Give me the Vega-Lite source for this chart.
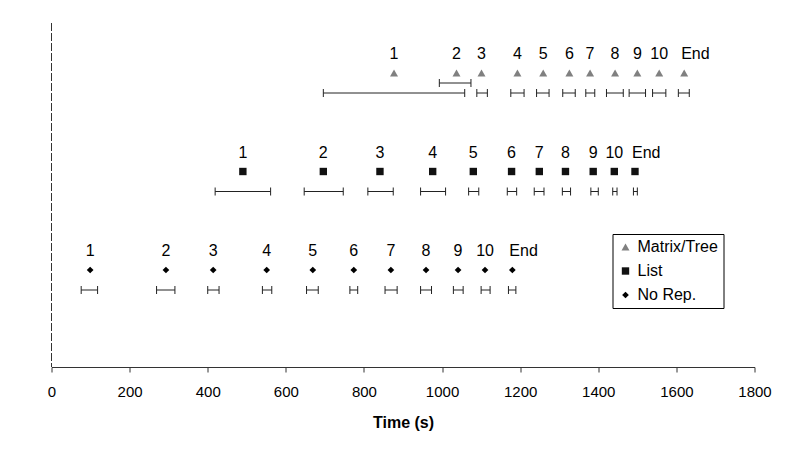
{
  "$schema": "https://vega.github.io/schema/vega-lite/v6.json",
  "width": 703,
  "height": 344,
  "autosize": {"type": "none"},
  "padding": {"left": 51.5, "top": 23, "right": 37.5, "bottom": 98},
  "background": "white",
  "config": {
    "view": {"stroke": null},
    "font": "Liberation Sans",
    "axis": {"labelFont": "Liberation Sans", "titleFont": "Liberation Sans"},
    "legend": {"labelFont": "Liberation Sans"}
  },
  "data": {
    "values": [
      {"series": "Matrix/Tree", "step": "1", "time": 877, "low": 696, "high": 1058},
      {"series": "Matrix/Tree", "step": "2", "time": 1037, "low": 993, "high": 1074},
      {"series": "Matrix/Tree", "step": "3", "time": 1101, "low": 1089, "high": 1116},
      {"series": "Matrix/Tree", "step": "4", "time": 1193, "low": 1176, "high": 1210},
      {"series": "Matrix/Tree", "step": "5", "time": 1259, "low": 1242, "high": 1274},
      {"series": "Matrix/Tree", "step": "6", "time": 1326, "low": 1309, "high": 1341},
      {"series": "Matrix/Tree", "step": "7", "time": 1379, "low": 1368, "high": 1391},
      {"series": "Matrix/Tree", "step": "8", "time": 1443, "low": 1421, "high": 1464},
      {"series": "Matrix/Tree", "step": "9", "time": 1500, "low": 1479, "high": 1521},
      {"series": "Matrix/Tree", "step": "10", "time": 1556, "low": 1539, "high": 1573},
      {"series": "Matrix/Tree", "step": "End", "time": 1620, "low": 1605, "high": 1633},
      {"series": "List", "step": "1", "time": 490, "low": 419, "high": 561},
      {"series": "List", "step": "2", "time": 696, "low": 647, "high": 747},
      {"series": "List", "step": "3", "time": 841, "low": 810, "high": 875},
      {"series": "List", "step": "4", "time": 976, "low": 945, "high": 1009},
      {"series": "List", "step": "5", "time": 1080, "low": 1068, "high": 1094},
      {"series": "List", "step": "6", "time": 1178, "low": 1167, "high": 1191},
      {"series": "List", "step": "7", "time": 1249, "low": 1236, "high": 1261},
      {"series": "List", "step": "8", "time": 1316, "low": 1308, "high": 1329},
      {"series": "List", "step": "9", "time": 1387, "low": 1381, "high": 1400},
      {"series": "List", "step": "10", "time": 1441, "low": 1437, "high": 1448},
      {"series": "List", "step": "End", "time": 1494, "low": 1490, "high": 1500},
      {"series": "No Rep.", "step": "1", "time": 99, "low": 76, "high": 118},
      {"series": "No Rep.", "step": "2", "time": 293, "low": 269, "high": 316},
      {"series": "No Rep.", "step": "3", "time": 414, "low": 400, "high": 429},
      {"series": "No Rep.", "step": "4", "time": 551, "low": 540, "high": 564},
      {"series": "No Rep.", "step": "5", "time": 669, "low": 653, "high": 683},
      {"series": "No Rep.", "step": "6", "time": 774, "low": 764, "high": 784},
      {"series": "No Rep.", "step": "7", "time": 869, "low": 854, "high": 885},
      {"series": "No Rep.", "step": "8", "time": 959, "low": 945, "high": 973},
      {"series": "No Rep.", "step": "9", "time": 1041, "low": 1029, "high": 1054},
      {"series": "No Rep.", "step": "10", "time": 1110, "low": 1100, "high": 1123},
      {"series": "No Rep.", "step": "End", "time": 1180, "low": 1170, "high": 1189}
    ]
  },
  "encoding": {
    "y": {
      "field": "series",
      "type": "nominal",
      "scale": {"type": "point", "domain": ["Matrix/Tree", "List", "No Rep."], "range": [50, 247], "padding": 0},
      "axis": null
    }
  },
  "layer": [
    {
      "mark": {"type": "rule", "strokeDash": [8, 2], "color": "#333333", "strokeWidth": 1},
      "encoding": {"x": {"datum": 0, "type": "quantitative"}, "y": null}
    },
    {
      "transform": [{"filter": "!(datum.series == 'Matrix/Tree' && datum.step == '2')"}],
      "layer": [
        {
          "mark": {"type": "rule", "color": "#222222", "strokeWidth": 1, "yOffset": 20},
          "encoding": {"x": {"field": "low", "type": "quantitative"}, "x2": {"field": "high"}}
        },
        {
          "mark": {"type": "tick", "orient": "vertical", "color": "#222222", "size": 8, "thickness": 1, "yOffset": 20, "opacity": 1},
          "encoding": {"x": {"field": "low", "type": "quantitative"}}
        },
        {
          "mark": {"type": "tick", "orient": "vertical", "color": "#222222", "size": 8, "thickness": 1, "yOffset": 20, "opacity": 1},
          "encoding": {"x": {"field": "high", "type": "quantitative"}}
        }
      ]
    },
    {
      "transform": [{"filter": "datum.series == 'Matrix/Tree' && datum.step == '2'"}],
      "layer": [
        {
          "mark": {"type": "rule", "color": "#222222", "strokeWidth": 1, "yOffset": 10},
          "encoding": {"x": {"field": "low", "type": "quantitative"}, "x2": {"field": "high"}}
        },
        {
          "mark": {"type": "tick", "orient": "vertical", "color": "#222222", "size": 8, "thickness": 1, "yOffset": 10, "opacity": 1},
          "encoding": {"x": {"field": "low", "type": "quantitative"}}
        },
        {
          "mark": {"type": "tick", "orient": "vertical", "color": "#222222", "size": 8, "thickness": 1, "yOffset": 10, "opacity": 1},
          "encoding": {"x": {"field": "high", "type": "quantitative"}}
        }
      ]
    },
    {
      "mark": {"type": "point", "filled": true, "opacity": 1, "strokeWidth": 0},
      "encoding": {
        "x": {
          "field": "time",
          "type": "quantitative",
          "scale": {"domain": [0, 1800], "nice": false, "zero": false},
          "axis": {
            "values": [0, 200, 400, 600, 800, 1000, 1200, 1400, 1600, 1800],
            "format": "d",
            "title": "Time (s)",
            "titleFontSize": 16,
            "titleFontWeight": "bold",
            "titleColor": "#000000",
            "titlePadding": 15,
            "labelFontSize": 15,
            "labelColor": "#000000",
            "labelPadding": 12,
            "labelFlush": false,
            "domainColor": "#333333",
            "tickColor": "#333333",
            "tickSize": 5,
            "grid": false
          }
        },
        "shape": {
          "field": "series",
          "type": "nominal",
          "scale": {"domain": ["Matrix/Tree", "List", "No Rep."], "range": ["triangle-up", "square", "diamond"]},
          "legend": {
            "title": null,
            "orient": "none",
            "legendX": 561,
            "legendY": 211,
            "strokeColor": "#000000",
            "padding": 5,
            "rowPadding": 8,
            "labelFontSize": 16,
            "labelColor": "#000000",
            "symbolOpacity": 1,
            "symbolStrokeWidth": 0,
            "labelOffset": 4
          }
        },
        "color": {
          "field": "series",
          "type": "nominal",
          "scale": {"domain": ["Matrix/Tree", "List", "No Rep."], "range": ["#808080", "#111111", "#000000"]},
          "legend": {
            "title": null,
            "orient": "none",
            "legendX": 561,
            "legendY": 211,
            "strokeColor": "#000000",
            "padding": 5,
            "rowPadding": 8,
            "labelFontSize": 16,
            "labelColor": "#000000",
            "symbolOpacity": 1,
            "symbolStrokeWidth": 0,
            "labelOffset": 4
          }
        },
        "size": {
          "field": "series",
          "type": "nominal",
          "scale": {"domain": ["Matrix/Tree", "List", "No Rep."], "range": [64, 45, 45]},
          "legend": {
            "title": null,
            "orient": "none",
            "legendX": 561,
            "legendY": 211,
            "strokeColor": "#000000",
            "padding": 5,
            "rowPadding": 8,
            "labelFontSize": 16,
            "labelColor": "#000000",
            "symbolOpacity": 1,
            "symbolStrokeWidth": 0,
            "labelOffset": 4
          }
        }
      }
    },
    {
      "transform": [{"filter": "datum.step != 'End'"}],
      "mark": {"type": "text", "dy": -19, "fontSize": 16, "color": "#000000", "baseline": "middle", "align": "center"},
      "encoding": {
        "x": {"field": "time", "type": "quantitative"},
        "text": {"field": "step", "type": "nominal"}
      }
    },
    {
      "transform": [{"filter": "datum.step == 'End'"}],
      "mark": {"type": "text", "dy": -19, "dx": -3, "fontSize": 16, "color": "#000000", "baseline": "middle", "align": "left"},
      "encoding": {
        "x": {"field": "time", "type": "quantitative"},
        "text": {"field": "step", "type": "nominal"}
      }
    }
  ]
}
